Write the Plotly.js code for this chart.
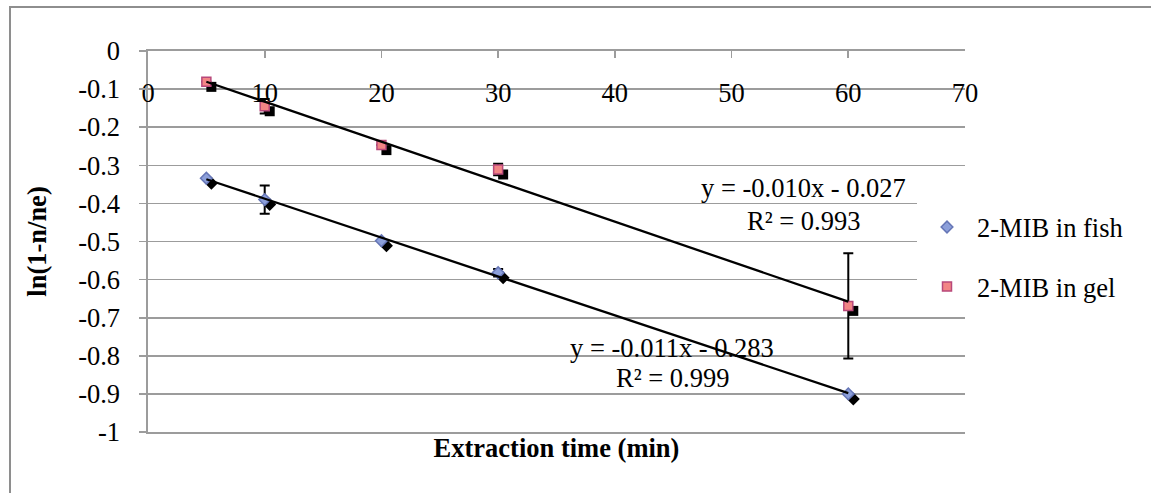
<!DOCTYPE html>
<html>
<head>
<meta charset="utf-8">
<script src="https://cdn.plot.ly/plotly-3.0.1.min.js"></script>
<style>
  html, body { margin: 0; padding: 0; background: #ffffff; overflow: hidden; }
  #chart { position: absolute; left: 0; top: 0; width: 1151px; height: 493px; }
  #frame { position: absolute; left: 9px; top: 6px; width: 1170px; height: 520px;
           border: 2px solid #8e8e8e; box-sizing: border-box; pointer-events: none; z-index: 5; }
</style>
</head>
<body>
<div id="chart"></div>
<div id="frame"></div>
<script>
// Extraction times (min)
const times = [5, 10, 20, 30, 60];
// ln(1 - n/ne) for each matrix
const fishLn = [-0.334, -0.390, -0.498, -0.582, -0.900];
const gelLn  = [-0.081, -0.145, -0.247, -0.311, -0.669];
// Error bar half-widths
const fishErr = [0, 0.037, 0, 0.010, 0];
const gelErr  = [0, 0.019, 0, 0.015, 0.138];
const seriesNames = ['2-MIB in fish', '2-MIB in gel'];
// Trendline labels
const fishEquation = ['y = -0.011x - 0.283', 'R² = 0.999'];
const gelEquation  = ['y = -0.010x - 0.027', 'R² = 0.993'];
// Axis ticks
const xTickVals = [0, 10, 20, 30, 40, 50, 60, 70];
const yTickVals = [0, -0.1, -0.2, -0.3, -0.4, -0.5, -0.6, -0.7, -0.8, -0.9, -1];
const yTickText = ['0', '-0.1', '-0.2', '-0.3', '-0.4', '-0.5', '-0.6', '-0.7', '-0.8', '-0.9', '-1'];

const FONT = 'Liberation Serif';
const FS = 26.5;
const GRID = '#9c9c9c';

// Least-squares straight line through the points
function fitLine(xs, ys) {
  const n = xs.length;
  const mx = xs.reduce((a, b) => a + b, 0) / n;
  const my = ys.reduce((a, b) => a + b, 0) / n;
  let sxy = 0, sxx = 0;
  for (let i = 0; i < n; i++) { sxy += (xs[i] - mx) * (ys[i] - my); sxx += (xs[i] - mx) ** 2; }
  const slope = sxy / sxx;
  return { slope: slope, intercept: my - slope * mx };
}
function lineTrace(xs, ys) {
  const f = fitLine(xs, ys);
  const x0 = Math.min(...xs), x1 = Math.max(...xs);
  return {
    x: [x0, x1], y: [f.slope * x0 + f.intercept, f.slope * x1 + f.intercept],
    xaxis: 'x2', yaxis: 'y2', mode: 'lines', showlegend: false, hoverinfo: 'skip',
    line: { color: '#000000', width: 2.3 }
  };
}

const W = 1151, H = 493;
const margin = { l: 148, r: 186, t: 51, b: 61 };
const plotW = W - margin.l - margin.r;
const plotH = H - margin.t - margin.b;
const xRange = [0, 70], yRange = [-1, 0];
// drop shadow offset (px) turned into data units for the shadow axes
const shadowPx = 5;
const dx = shadowPx * (xRange[1] - xRange[0]) / plotW;
const dy = shadowPx * (yRange[1] - yRange[0]) / plotH;

const fishStyle = { symbol: 'diamond', size: 9, color: '#8c9fda', line: { color: '#6676b6', width: 1.5 } };
const gelStyle  = { symbol: 'square',  size: 9, color: '#f28585', line: { color: '#b8487a', width: 1.5 } };

const traces = [
  // shadows (drawn first, on the offset axes)
  { x: times, y: fishLn, xaxis: 'x', yaxis: 'y', mode: 'markers', showlegend: false, hoverinfo: 'skip',
    marker: { symbol: 'diamond', size: 10, color: '#000000' } },
  { x: times, y: gelLn, xaxis: 'x', yaxis: 'y', mode: 'markers', showlegend: false, hoverinfo: 'skip',
    marker: { symbol: 'square', size: 10, color: '#000000' } },
  // data series
  { x: times, y: fishLn, xaxis: 'x2', yaxis: 'y2', mode: 'markers', name: seriesNames[0],
    legendgroup: 'fish', marker: fishStyle,
    error_y: { type: 'data', array: fishErr, visible: true, color: '#000000', thickness: 2, width: 5 } },
  { x: times, y: gelLn, xaxis: 'x2', yaxis: 'y2', mode: 'markers', name: seriesNames[1],
    legendgroup: 'gel', marker: gelStyle,
    error_y: { type: 'data', array: gelErr, visible: true, color: '#000000', thickness: 2, width: 5 } },
  // linear trendlines
  lineTrace(times, gelLn),
  lineTrace(times, fishLn)
];

function label(text, x, y) {
  return { text: text, x: x, y: y, xref: 'x2', yref: 'y2', showarrow: false,
           xanchor: 'center', yanchor: 'middle', font: { family: FONT, size: FS, color: '#000000' } };
}

const layout = {
  width: W, height: H, margin: margin,
  paper_bgcolor: '#ffffff', plot_bgcolor: 'rgba(0,0,0,0)',
  font: { family: FONT, size: FS, color: '#000000' },
  showlegend: true,
  legend: {
    x: (917 - margin.l) / plotW, xanchor: 'left', y: 0.46, yanchor: 'middle',
    bgcolor: '#ffffff', borderwidth: 0, itemwidth: 50,
    traceorder: 'grouped', tracegroupgap: 22,
    font: { family: FONT, size: FS, color: '#000000' }
  },
  // offset axes carrying the marker shadows; the bottom one holds the x title
  xaxis: { range: [xRange[0] - dx, xRange[1] - dx], showgrid: false, zeroline: false, showline: false,
           ticks: '', showticklabels: false, fixedrange: true,
           title: { text: 'Extraction time (min)', standoff: 6,
                    font: { family: FONT, size: FS, weight: 'bold', color: '#000000' } } },
  yaxis: { range: [yRange[0] + dy, yRange[1] + dy], visible: false, fixedrange: true },
  // visible axes
  xaxis2: { overlaying: 'x', anchor: 'y2', side: 'top', range: xRange,
            tickvals: xTickVals, showgrid: false, zeroline: false,
            showline: true, linecolor: GRID, linewidth: 1.6, mirror: true,
            ticks: 'inside', ticklen: 7, tickwidth: 1.6, tickcolor: GRID,
            ticklabelposition: 'inside', ticklabeloverflow: 'allow', ticklabelstandoff: 28,
            tickfont: { family: FONT, size: FS, color: '#000000' } },
  yaxis2: { overlaying: 'y', anchor: 'x2', side: 'left', range: yRange,
            tickvals: yTickVals, ticktext: yTickText,
            showgrid: true, gridcolor: GRID, gridwidth: 1.6, zeroline: false,
            showline: true, linecolor: GRID, linewidth: 1.6,
            ticks: 'outside', ticklen: 7, tickwidth: 1.6, tickcolor: GRID,
            ticklabelstandoff: 14,
            tickfont: { family: FONT, size: FS, color: '#000000' },
            title: { text: 'ln(1-n/ne)', standoff: 24,
                     font: { family: FONT, size: FS, weight: 'bold', color: '#000000' } } },
  annotations: [
    label(gelEquation[0], 56.2, -0.360),
    label(gelEquation[1], 56.2, -0.446),
    label(fishEquation[0], 44.9, -0.780),
    label(fishEquation[1], 44.9, -0.859)
  ]
};

Plotly.newPlot('chart', traces, layout, { displayModeBar: false, staticPlot: true });
</script>
</body>
</html>
